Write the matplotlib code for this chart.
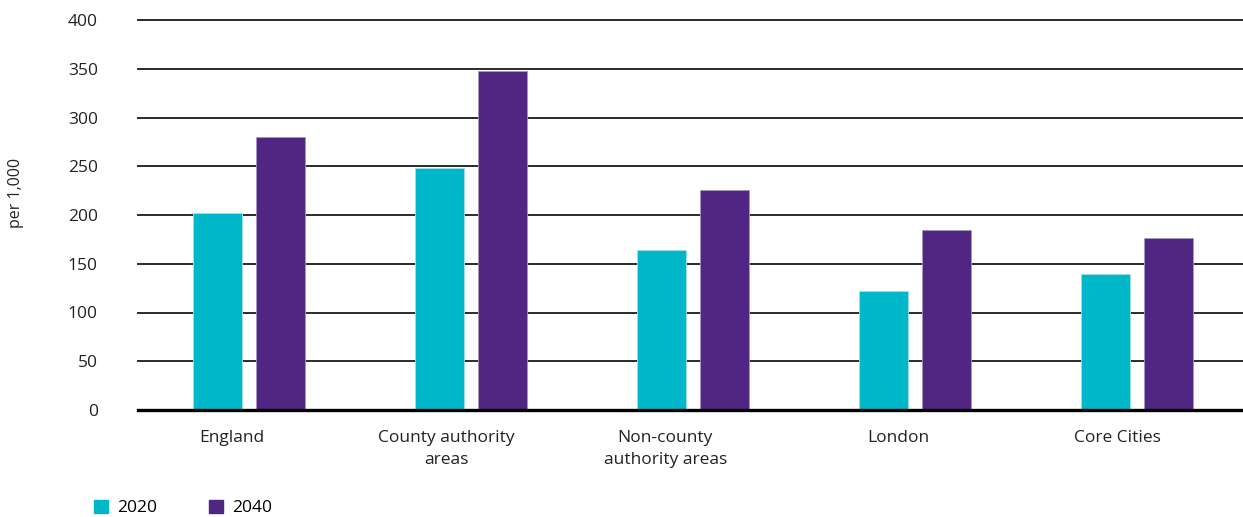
import matplotlib
matplotlib.use('Agg')
import matplotlib.pyplot as plt
from matplotlib.patches import Patch
import numpy as np

plt.rcParams['font.family'] = ['Open Sans', 'DejaVu Sans']

categories = ['England', 'County authority\nareas', 'Non-county\nauthority areas', 'London', 'Core Cities']
values_2020 = [202, 248, 164, 122, 139]
values_2040 = [280, 348, 226, 185, 176]
series_names = ['2020', '2040']
yticks = [0, 50, 100, 150, 200, 250, 300, 350, 400]

teal = '#00b7ca'
purple = '#512683'

fig = plt.figure(figsize=(12.43, 5.17), dpi=100)
ax = fig.add_axes([138 / 1243, 1 - 410 / 517, 1110 / 1243, 390 / 517])

x = np.arange(len(categories))
width = 0.222
offset = 0.142

# gridlines behind the bars
for t in yticks[1:]:
    ax.axhline(t, color='#2b2b2b', lw=1.4, zorder=1, clip_on=False)
ax.axhline(0, color='black', lw=2.4, zorder=3, clip_on=False)

ax.bar(x - offset, values_2020, width, color=teal, edgecolor='#9fe3ea', linewidth=0.6, zorder=2)
ax.bar(x + offset, values_2040, width, color=purple, edgecolor='#a995c4', linewidth=0.6, zorder=2)

ax.set_xlim(-0.5, len(categories) - 0.5)
ax.set_ylim(0, 400)
ax.set_yticks(yticks)
ax.set_yticklabels([str(t) for t in yticks], fontsize=12.5, color='#222222')
ax.tick_params(axis='y', length=0, pad=29)
ax.set_xticks([])
for s in ax.spines.values():
    s.set_visible(False)

# category labels sit a little left of the bar pairs in the original
label_shift = [-0.075, -0.11, -0.125, -0.075, -0.09]
for i, lab in enumerate(categories):
    ax.text(x[i] + label_shift[i], -20, lab, ha='center', va='top', fontsize=12.5,
            color='#222222', linespacing=1.55)

fig.text(16 / 1243, 1 - 193 / 517, 'per 1,000', rotation=90, ha='center', va='center',
         fontsize=11.5, color='#222222')

handles = [Patch(color=teal), Patch(color=purple)]
fig.legend(handles, series_names, loc='center left', bbox_to_anchor=(94 / 1243, 1 - 508 / 517),
           ncol=2, frameon=False, fontsize=12.5, handlelength=0.8, handleheight=0.8,
           handletextpad=0.52, columnspacing=3.0, borderpad=0, borderaxespad=0)

fig.savefig('out.png', dpi=100)
